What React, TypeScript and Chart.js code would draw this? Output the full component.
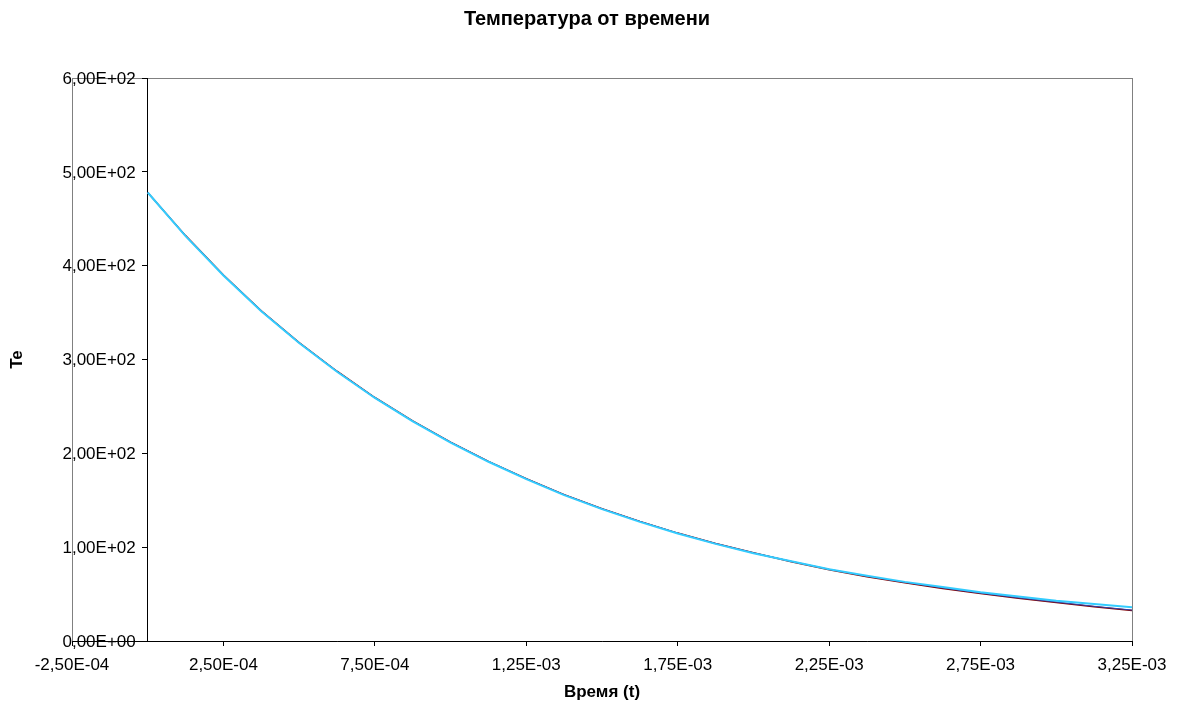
import React, { useEffect, useRef } from "react";
import { Chart, registerables } from "chart.js";

Chart.register(...registerables);

const chartTitle = "Температура от времени";
const xAxisTitle = "Время (t)";
const yAxisTitle = "Te";

const times = [
  0, 0.000125, 0.00025, 0.000375, 0.0005, 0.000625, 0.00075, 0.000875, 0.001,
  0.001125, 0.00125, 0.001375, 0.0015, 0.001625, 0.00175, 0.001875, 0.002,
  0.002125, 0.00225, 0.002375, 0.0025, 0.002625, 0.00275, 0.002875, 0.003,
  0.003125, 0.00325,
];

const seriesNavy = [
  478, 432, 390, 352, 318, 287.5, 259.5, 234.5, 212, 191.5, 173, 156, 141,
  127.5, 115, 104, 94, 85, 76.5, 69, 62.5, 56.5, 51, 46, 41.5, 37, 33,
];

const seriesRed = [
  478, 432, 390, 352, 318, 287.5, 259.5, 234.5, 212, 191.5, 173, 156, 141,
  127.5, 115, 104, 94, 84.5, 76, 68.5, 62, 56, 50.5, 45.5, 41, 36.5, 32.5,
];

const seriesCyan = [
  478, 431.5, 389.5, 351.5, 317.5, 287, 259, 234, 211.5, 191, 172.5, 155.5,
  140.5, 127, 114.5, 103.5, 93.5, 85, 76.5, 69.5, 63, 57.5, 52, 47.5, 43,
  39.5, 36,
];

const xTickValues = [
  -0.00025, 0.00025, 0.00075, 0.00125, 0.00175, 0.00225, 0.00275, 0.00325,
];
const xTickLabels = [
  "-2,50E-04", "2,50E-04", "7,50E-04", "1,25E-03", "1,75E-03", "2,25E-03",
  "2,75E-03", "3,25E-03",
];
const yTickValues = [0, 100, 200, 300, 400, 500, 600];
const yTickLabels = [
  "0,00E+00", "1,00E+02", "2,00E+02", "3,00E+02", "4,00E+02", "5,00E+02",
  "6,00E+02",
];

const FONT = "Arial, 'Liberation Sans', sans-serif";

const toPoints = (ys: number[]) => times.map((t, i) => ({ x: t, y: ys[i] }));

export default function App() {
  const ref = useRef<HTMLCanvasElement | null>(null);

  useEffect(() => {
    if (!ref.current) return;

    const decorPlugin = {
      id: "decor",
      beforeDraw(chart: any) {
        const { ctx, chartArea } = chart;
        ctx.save();
        ctx.strokeStyle = "#808080";
        ctx.lineWidth = 1;
        ctx.strokeRect(
          Math.round(chartArea.left) + 0.5,
          Math.round(chartArea.top) + 0.5,
          Math.round(chartArea.right - chartArea.left),
          Math.round(chartArea.bottom - chartArea.top)
        );
        ctx.restore();
      },
      afterDraw(chart: any) {
        const { ctx, chartArea, scales } = chart;
        ctx.save();
        ctx.fillStyle = "#000";
        // y tick labels, right-aligned left of the y axis (at x = 0)
        const axisX = scales.x.getPixelForValue(0);
        ctx.font = `17px ${FONT}`;
        ctx.textAlign = "right";
        ctx.textBaseline = "middle";
        yTickValues.forEach((v, i) => {
          ctx.fillText(yTickLabels[i], axisX - 12, scales.y.getPixelForValue(v) + 1);
        });
        ctx.textAlign = "center";
        ctx.font = `bold 20px ${FONT}`;
        ctx.fillText(chartTitle, 587, 19);
        ctx.font = `bold 17px ${FONT}`;
        ctx.fillText(xAxisTitle, (chartArea.left + chartArea.right) / 2, 692);
        ctx.translate(17, (chartArea.top + chartArea.bottom) / 2);
        ctx.rotate(-Math.PI / 2);
        ctx.fillText(yAxisTitle, 0, 0);
        ctx.restore();
      },
    };

    const chart = new Chart(ref.current, {
      type: "scatter",
      data: {
        datasets: [
          {
            label: "series 3",
            data: toPoints(seriesCyan),
            showLine: true,
            borderColor: "#33CCFF",
            borderWidth: 2,
            pointRadius: 0,
            tension: 0,
          },
          {
            label: "series 1",
            data: toPoints(seriesNavy),
            showLine: true,
            borderColor: "#3344AA",
            borderWidth: 1,
            pointRadius: 0,
            tension: 0,
          },
          {
            label: "series 2",
            data: toPoints(seriesRed),
            showLine: true,
            borderColor: "#800000",
            borderWidth: 1.5,
            pointRadius: 0,
            tension: 0,
          },
        ],
      },
      options: {
        animation: false,
        responsive: false,
        layout: { padding: { left: 72, right: 47, top: 78, bottom: 0 } },
        plugins: {
          legend: { display: false },
          tooltip: { enabled: false },
          title: { display: false },
        },
        scales: {
          x: {
            type: "linear",
            position: "bottom",
            min: -0.00025,
            max: 0.00325,
            afterBuildTicks: (s: any) => {
              s.ticks = xTickValues.map((v) => ({ value: v }));
            },
            afterFit: (s: any) => {
              s.height = 63;
            },
            ticks: {
              autoSkip: false,
              maxRotation: 0,
              padding: 9,
              color: "#000",
              font: { family: FONT, size: 17 },
              callback: (_v: any, i: number) => xTickLabels[i],
            },
            grid: {
              display: true,
              drawOnChartArea: false,
              drawTicks: true,
              tickLength: 5,
              color: "#000",
            },
            border: { display: true, color: "#000", width: 1 },
          },
          y: {
            type: "linear",
            position: { x: 0 } as any,
            min: 0,
            max: 600,
            afterBuildTicks: (s: any) => {
              s.ticks = yTickValues.map((v) => ({ value: v }));
            },
            ticks: {
              display: false,
            },
            grid: {
              display: true,
              drawOnChartArea: false,
              drawTicks: true,
              tickLength: 5,
              color: "#000",
            },
            border: { display: true, color: "#000", width: 1 },
          },
        },
      },
      plugins: [decorPlugin],
    });

    return () => chart.destroy();
  }, []);

  return (
    <div style={{ position: "fixed", left: 0, top: 0, width: 1179, height: 704, background: "#fff" }}>
      <canvas ref={ref} width={1179} height={704} style={{ display: "block" }} />
    </div>
  );
}
